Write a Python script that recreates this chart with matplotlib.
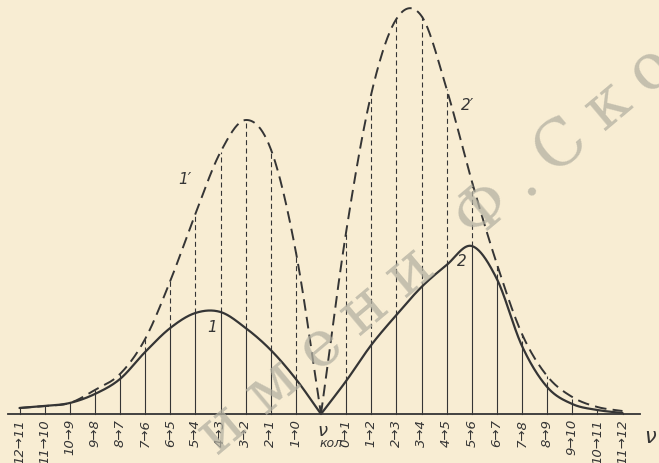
import numpy as np
import matplotlib
matplotlib.use("Agg")
import matplotlib.pyplot as plt
from matplotlib.font_manager import FontProperties
from matplotlib.textpath import TextToPath

# ---------------- data ----------------
left_pos = [-12, -11, -10, -9, -8, -7, -6, -5, -4, -3, -2, -1, 0]
right_pos = [0, 1, 2, 3, 4, 5, 6, 7, 8, 9, 10, 11, 12]

curve1 = [6, 8, 11, 20, 35, 62, 86, 101, 102, 86, 64, 35, 0]
curve1p = [6, 8, 11, 24, 40, 75, 133, 200, 262, 294, 265, 162, 0]
curve2 = [0, 33, 69, 99, 127, 149, 168, 135, 68, 27, 10, 4, 1]
curve2p = [0, 182, 320, 395, 398, 325, 233, 150, 80, 38, 17, 7, 3]

left_labels = ["12→11", "11→10", "10→9", "9→8", "8→7", "7→6", "6→5",
               "5→4", "4→3", "3→2", "2→1", "1→0"]
right_labels = ["0→1", "1→2", "2→3", "3→4", "4→5", "5→6", "6→7",
                "7→8", "8→9", "9→10", "10→11", "11→12"]

stamp_text = "имени Ф. Скорины"

BG = "#f8edd3"
INK = "#353535"
BASE = 415  # baseline pixel row


def catmull_rom(x, y, xs):
    x = np.asarray(x, float)
    y = np.asarray(y, float)
    n = len(x)
    m = np.zeros(n)
    m[1:-1] = (y[2:] - y[:-2]) / (x[2:] - x[:-2])
    m[0] = (y[1] - y[0]) / (x[1] - x[0])
    m[-1] = (y[-1] - y[-2]) / (x[-1] - x[-2])
    k = np.clip(np.searchsorted(x, xs) - 1, 0, n - 2)
    h = x[k + 1] - x[k]
    t = (xs - x[k]) / h
    h00 = 2 * t**3 - 3 * t**2 + 1
    h10 = t**3 - 2 * t**2 + t
    h01 = -2 * t**3 + 3 * t**2
    h11 = t**3 - t**2
    return h00 * y[k] + h10 * h * m[k] + h01 * y[k + 1] + h11 * h * m[k + 1]


fig = plt.figure(figsize=(6.59, 4.64), dpi=100, facecolor=BG)
ax = fig.add_axes([0, 0, 1, 1])
ax.set_facecolor(BG)

# pixel mapping: x data -> px = 321 + 25.125*x ; y data = BASE - py
ax.set_xlim((0 - 321) / 25.125, (659 - 321) / 25.125)
ax.set_ylim(BASE - 464, BASE)
ax.axis("off")

dash_curve = (0, (6, 3.2))
dash_vert = (0, (4.5, 3))

for pos, lo, hi in [(left_pos, curve1, curve1p), (right_pos, curve2, curve2p)]:
    xs = np.linspace(pos[0], pos[-1], 600)
    ax.plot(xs, np.maximum(catmull_rom(pos, lo, xs), 0), color=INK, lw=1.6,
            solid_capstyle="round")
    ax.plot(xs, np.maximum(catmull_rom(pos, hi, xs), 0), color=INK, lw=1.4,
            linestyle=dash_curve)
    for p, a, b in zip(pos, lo, hi):
        if p == 0:
            continue
        ax.plot([p, p], [0, a], color=INK, lw=0.8)
        if b - a > 3:
            ax.plot([p, p], [a, b], color=INK, lw=0.8, linestyle=dash_vert)

# baseline
ax.plot([(8 - 321) / 25.125, (640 - 321) / 25.125], [0, 0], color=INK, lw=1.3)

# tick labels
for p, lab in zip(left_pos[:-1] + right_pos[1:], left_labels + right_labels):
    ax.text(p, -4, lab, rotation=90, fontsize=9.5, style="italic", color=INK,
            ha="center", va="top")

# axis labels
ax.text(0.05, -16, "ν", fontsize=13, style="italic", color=INK, ha="center", va="center")
ax.text(0.5, -29, "кол.", fontsize=9, style="italic", color=INK, ha="center", va="center")
ax.text(13.1, -22, "ν", fontsize=15, style="italic", color=INK, ha="center", va="center")

# curve labels
ax.text(-5.41, 235, "1′", fontsize=11, style="italic", color=INK, ha="center", va="center")
ax.text(-4.34, 88, "1", fontsize=11, style="italic", color=INK, ha="center", va="center")
ax.text(5.85, 310, "2′", fontsize=11, style="italic", color=INK, ha="center", va="center")
ax.text(5.61, 153, "2", fontsize=11, style="italic", color=INK, ha="center", va="center")

# library stamp watermark (letter-spaced, rotated)
fs = 46
prop = FontProperties(family="DejaVu Serif", size=fs)
ttp = TextToPath()
widths = []
n_space = 0
for ch in stamp_text:
    if ch == " ":
        w, _, _ = ttp.get_text_width_height_descent("n", prop, ismath=False)
        w *= 0.45 if n_space == 0 else 0.0
        n_space += 1
    else:
        w, _, _ = ttp.get_text_width_height_descent(ch, prop, ismath=False)
    widths.append(w * 100 / 72 * 1.42)  # px with tracking
ang = np.deg2rad(40)
ux, uy = np.cos(ang), -np.sin(ang)
centers = np.cumsum(widths) - np.array(widths) / 2
iF = stamp_text.index("Ф")
ref_x, ref_y = 478, 205
for ch, c in zip(stamp_text, centers):
    if ch == " ":
        continue
    d = c - centers[iF]
    px, py = ref_x + d * ux, ref_y + d * uy
    fig.text(px / 659, 1 - py / 464, ch, fontproperties=prop, color="#b4b1a2",
             alpha=0.75, rotation=40, rotation_mode="anchor", ha="center",
             va="center_baseline", zorder=10)

fig.savefig("out.png", dpi=100, facecolor=BG)
